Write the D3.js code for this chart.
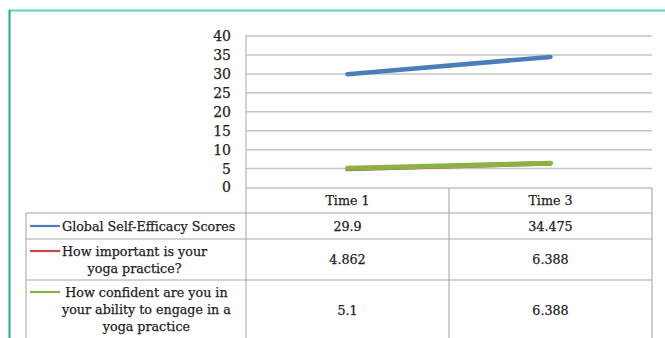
<!DOCTYPE html>
<html><head><meta charset="utf-8">
<script src="https://cdn.jsdelivr.net/npm/d3@7"></script>
<style>
html,body{margin:0;padding:0;background:#fff;}
svg{display:block;}
svg text{font-family:"DejaVu Serif",serif !important;fill:#222;stroke:#222;stroke-width:0.25px;}
</style></head>
<body>
<svg id="chart" width="665" height="338"></svg>
<script>
const categories = ["Time 1", "Time 3"];
const seriesNames = [
  ["Global Self-Efficacy Scores"],
  ["How important is your", "yoga practice?"],
  ["How confident are you in", "your ability to engage in a", "yoga practice"]
];
const globalSelfEfficacy = [29.9, 34.475];
const importantPractice = [4.862, 6.388];
const confidentAbility = [5.1, 6.388];
const yTicks = [0, 5, 10, 15, 20, 25, 30, 35, 40];
const seriesColors = ["#4a7ebb", "#be4b48", "#8db145"];

const series = [globalSelfEfficacy, importantPractice, confidentAbility];

const svg = d3.select("#chart");
const plotL = 246, plotR = 652, plotT = 36, plotB = 187.5;
const tableL = 26;
const headerTop = 188, rowBounds = [213, 239, 280, 345];
const FS = "12.7px";

const x = d3.scaleBand().domain(categories).range([plotL, plotR]);
const y = d3.scaleLinear().domain([0, 40]).range([plotB, plotT]);

// teal frame
svg.append("line").attr("x1", 9).attr("x2", 665).attr("y1", 10.5).attr("y2", 10.5)
  .attr("stroke", "#5ad5c3").attr("stroke-width", 2);
svg.append("line").attr("x1", 9.5).attr("x2", 9.5).attr("y1", 10).attr("y2", 338)
  .attr("stroke", "#22a98f").attr("stroke-width", 2);

// gridlines
svg.append("g").selectAll("line").data(yTicks.filter(d => d > 0)).join("line")
  .attr("x1", plotL).attr("x2", plotR)
  .attr("y1", d => y(d)).attr("y2", d => y(d))
  .attr("stroke", "#c4c4c4").attr("stroke-width", 1.5);

// y axis
const yAxis = d3.axisLeft(y).tickValues(yTicks).tickSize(0).tickPadding(15);
const ya = svg.append("g").attr("transform", `translate(${plotL},0)`).call(yAxis);
ya.attr("font-family", null).attr("font-size", null);
ya.select(".domain").remove();
ya.selectAll("text").style("font-size", "14px").attr("fill", "#222");
svg.append("line").attr("x1", plotL).attr("x2", plotL).attr("y1", plotT - 1).attr("y2", 338)
  .attr("stroke", "#b5b5b5").attr("stroke-width", 1.2);

// table grid
const gc = "#a8a8a8";
const tg = svg.append("g").attr("stroke", gc).attr("stroke-width", 1.1);
tg.append("line").attr("x1", plotL).attr("x2", plotR).attr("y1", headerTop).attr("y2", headerTop);
rowBounds.slice(0, 3).forEach(b => {
  tg.append("line").attr("x1", tableL).attr("x2", plotR).attr("y1", b).attr("y2", b);
});
tg.append("line").attr("x1", tableL).attr("x2", tableL).attr("y1", rowBounds[0]).attr("y2", 338);
categories.forEach(c => {
  tg.append("line").attr("x1", x(c) + x.bandwidth()).attr("x2", x(c) + x.bandwidth())
    .attr("y1", headerTop).attr("y2", 338);
});

// header
svg.append("g").selectAll("text").data(categories).join("text")
  .attr("x", d => x(d) + x.bandwidth() / 2).attr("y", 200.5)
  .attr("text-anchor", "middle").attr("dominant-baseline", "central")
  .style("font-size", FS).text(d => d);

// row values
const valueCenters = [226, 259.5, 310];
series.forEach((vals, i) => {
  svg.append("g").selectAll("text").data(vals).join("text")
    .attr("x", (d, j) => x(categories[j]) + x.bandwidth() / 2)
    .attr("y", valueCenters[i])
    .attr("text-anchor", "middle").attr("dominant-baseline", "central")
    .style("font-size", FS).text(d => String(d));
});

// row labels with legend keys
const firstLineCenters = [226, 251, 292];
const lineGap = 17;
const blockStart = 62;
seriesNames.forEach((lines, i) => {
  const g = svg.append("g");
  const texts = g.selectAll("text").data(lines).join("text")
    .attr("y", (d, k) => firstLineCenters[i] + k * lineGap)
    .attr("dominant-baseline", "central").attr("text-anchor", "middle")
    .style("font-size", FS).text(d => d);
  let maxW = 0;
  texts.each(function () { maxW = Math.max(maxW, this.getComputedTextLength()); });
  texts.attr("x", blockStart + maxW / 2);
  g.append("line").attr("x1", 30).attr("x2", 60)
    .attr("y1", firstLineCenters[i]).attr("y2", firstLineCenters[i])
    .attr("stroke", seriesColors[i]).attr("stroke-width", 2.2);
});

// series lines
const line = d3.line().x((d, j) => x(categories[j]) + x.bandwidth() / 2).y(d => y(d));
series.forEach((vals, i) => {
  svg.append("path").datum(vals).attr("d", line)
    .attr("fill", "none").attr("stroke", seriesColors[i])
    .attr("stroke-width", i === 2 ? 5 : 4.5).attr("stroke-linecap", "round");
});
</script>
</body></html>
